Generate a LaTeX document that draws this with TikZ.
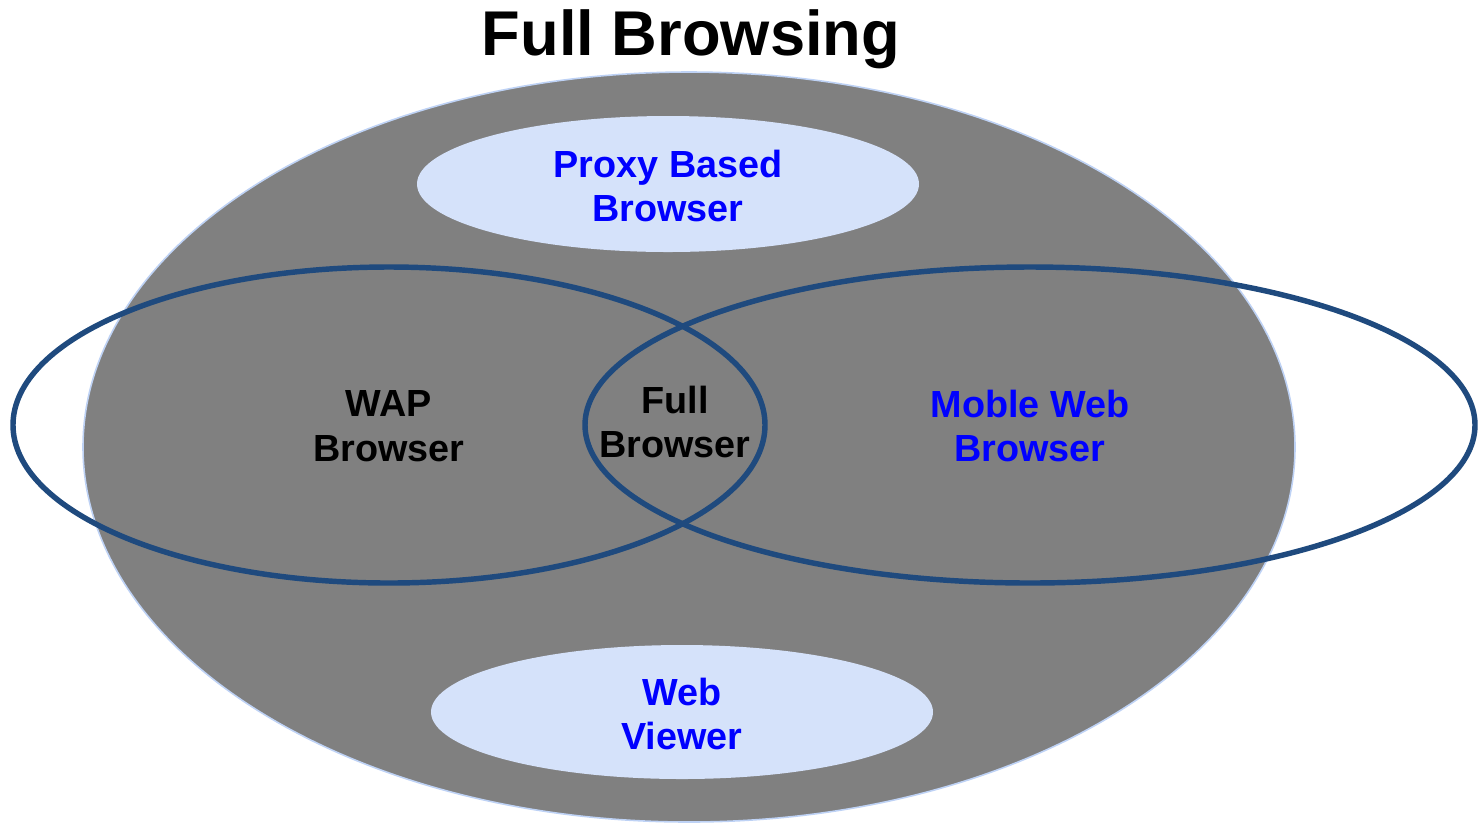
\documentclass[tikz,border=0pt]{standalone}
\usepackage{fontspec}
\setmainfont{Liberation Sans}
\usetikzlibrary{shapes}

\definecolor{ringblue}{RGB}{31,74,126}
\definecolor{paleblue}{RGB}{213,226,250}
\definecolor{edgeblue}{RGB}{190,210,245}
\definecolor{fullgray}{RGB}{128,128,128}
\definecolor{txtblue}{RGB}{0,0,255}

\begin{document}
\begin{tikzpicture}[x=0.02cm,y=-0.02cm,
lbl/.style = {% labels
    font=\bfseries\fontsize{21.5}{25.5}\selectfont, align=center, inner sep=0pt,
            },
ring/.style = {draw=ringblue, line width=3.1pt},
pale/.style = {fill=paleblue},
                        ]
\useasboundingbox (0,0) rectangle (1480,823);
% title
\node[font=\bfseries\fontsize{36}{43}\selectfont, anchor=base] (title) at (691,55) {Full Browsing};
% outer field
\draw[fill=fullgray, draw=edgeblue, line width=0.9pt] (689,447) ellipse [x radius=606, y radius=375];
% inner areas
\fill[pale] (668,184) ellipse [x radius=251, y radius=68];
\fill[pale] (682,712) ellipse [x radius=251, y radius=67];
% rings
\draw[ring] (389,425) ellipse [x radius=376, y radius=158];
\draw[ring] (1030,425) ellipse [x radius=445, y radius=158];
% labels
\node[lbl,txtblue] (proxy) at (668,186) {Proxy Based\\Browser};
\node[lbl,txtblue] (viewer) at (682,714) {Web\\Viewer};
\node[lbl] (wap) at (389,426) {WAP\\Browser};
\node[lbl] (full) at (675,422) {Full\\Browser};
\node[lbl,txtblue] (moble) at (1030,426) {Moble Web\\Browser};
\end{tikzpicture}
\end{document}
